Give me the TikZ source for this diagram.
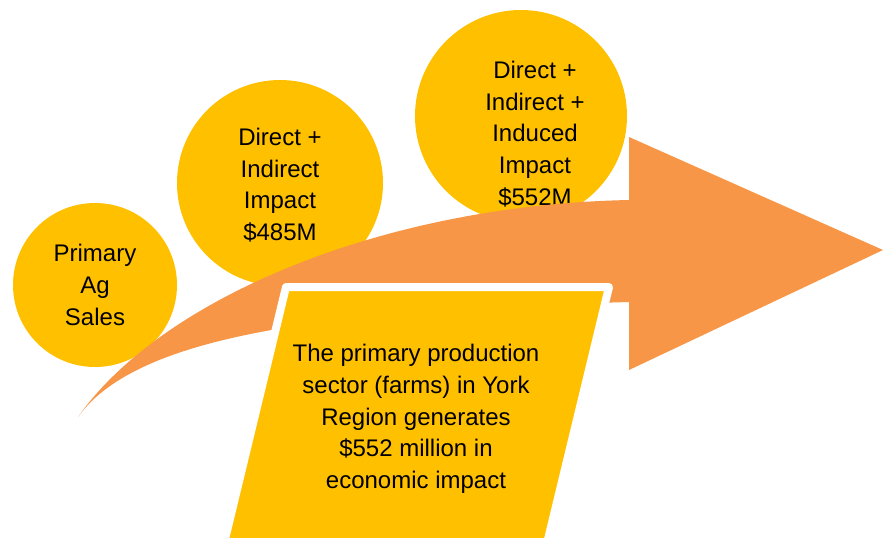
\documentclass[tikz,border=0pt]{standalone}
\usepackage{fontspec}
\setmainfont{Liberation Sans}
\definecolor{agyellow}{HTML}{FFC000}
\definecolor{agorange}{HTML}{F79646}
\begin{document}
\begin{tikzpicture}[x=0.75pt,y=-0.75pt,
  bubble/.style={circle,fill=agyellow,inner sep=0pt},
  label text/.style={align=center,text=black,font=\fontsize{18}{23.8}\selectfont},
  ]
\useasboundingbox (0,0) rectangle (883,537);
\clip (0,0) rectangle (883,537);
% circles (diameters in px * 0.75pt)
\node[bubble,minimum size=123pt] (c1) at (95,285) {};
\node[bubble,minimum size=154.5pt] (c2) at (280,183) {};
\node[bubble,minimum size=159pt] (c3) at (521,116) {};
\node[label text] (t1) at (95,285) {Primary\\Ag\\Sales};
\node[label text] (t2) at (280,185) {Direct +\\Indirect\\Impact\\\$485M};
\node[label text] (t3) at (535,134) {Direct +\\Indirect +\\Induced\\Impact\\\$552M};
% curved arrow
\fill[agorange] (78,417) .. controls (160,300) and (380,205) .. (629,200)
  -- (629,137) -- (883,250) -- (629,370) -- (629,302)
  .. controls (350,310) and (140,330) .. (78,417) -- cycle;
% parallelogram
\filldraw[fill=agyellow,draw=white,line width=6pt,line join=round]
  (286,287) -- (609,287) -- (543,560) -- (220,560) -- cycle;
\node[label text] (t4) at (416,419) {The primary production\\sector (farms) in York\\Region generates\\\$552 million in\\economic impact};
\end{tikzpicture}
\end{document}
